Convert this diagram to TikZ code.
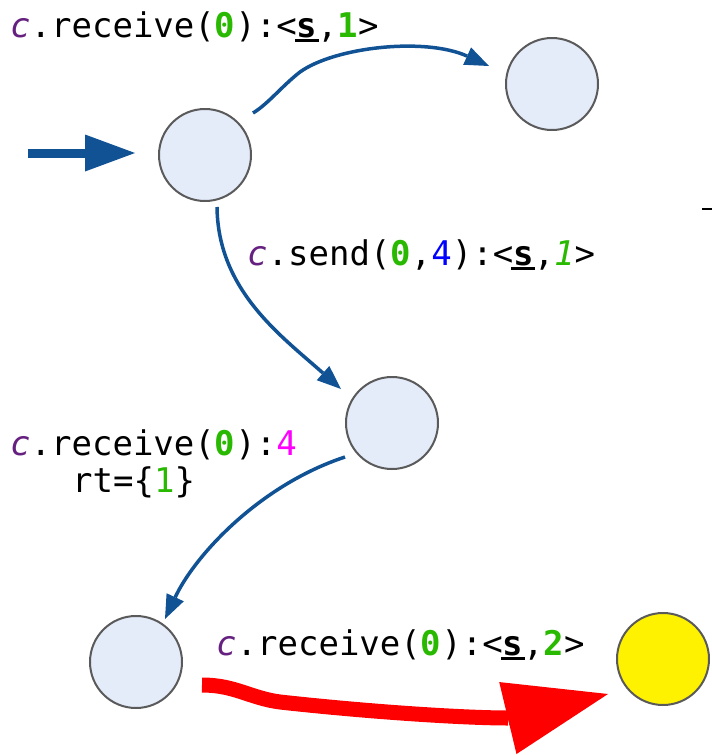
\documentclass[tikz,border=0pt]{standalone}
\usepackage{fontspec}
\setmonofont{DejaVu Sans Mono}
\usetikzlibrary{arrows.meta,calc}

\definecolor{flowblue}{RGB}{16,82,148}
\definecolor{statefill}{RGB}{228,235,249}
\definecolor{stateline}{RGB}{90,90,90}
\definecolor{cpurple}{RGB}{102,32,128}
\definecolor{cgreen}{RGB}{40,185,0}
\definecolor{sendblue}{RGB}{0,0,255}
\definecolor{rtmagenta}{RGB}{255,0,255}
\definecolor{hotred}{RGB}{255,0,0}

% channel variable, bold green literal, underlined bold state
\newcommand{\chv}{\textcolor{cpurple}{\textit{c}}}
\newcommand{\gb}[1]{\textcolor{cgreen}{\textbf{#1}}}
\newcommand{\ust}{\rlap{\kern-2pt\rule[-5pt]{24pt}{3pt}}\textbf{s}}

\begin{document}
\begin{tikzpicture}[x=1pt,y=-1pt,
  state/.style={circle,draw=stateline,line width=2pt,fill=statefill,
                minimum size=92pt,inner sep=0pt},
  lbl/.style={anchor=base west,inner sep=0pt,
              font=\ttfamily\fontsize{34}{37}\selectfont},
  flow/.style={draw=flowblue,line width=3.5pt,
               -{Triangle[length=24pt,width=19pt,line width=0pt]}},
  entry/.style={draw=flowblue,line width=9pt,
               -{Triangle[length=50pt,width=37pt,line width=0pt]}},
  hot/.style={draw=hotred,line width=15pt,
               -{Triangle[length=103pt,width=74pt,line width=0pt]}}]
\useasboundingbox (0,0) rectangle (712,755);

% states
\node[state] (A) at (205,155) {};
\node[state] (B) at (552,84) {};
\node[state] (C) at (392,423) {};
\node[state] (D) at (136,662) {};
\node[state,fill=yellow] (E) at (663,659) {};

% connector ends
\coordinate (in0) at (28,153);
\coordinate (in1) at (135,153);
\coordinate (ab0) at (253,113);
\coordinate (ab1) at (489,66);
\coordinate (ac0) at (217,207);
\coordinate (ac1) at (341,389);
\coordinate (cd0) at (345,457);
\coordinate (cd1) at (165,619);
\coordinate (de0) at (202,685);
\coordinate (de1) at (608,694);

% transitions
\draw[entry] (in0) -- (in1);
\draw[flow] (ab0) .. controls (268,104) and (282,86) .. (300,72)
                  .. controls (335,47) and (425,37) .. (ab1);
\draw[flow] (ac0) .. controls (218,290) and (280,335) .. (ac1);
\draw[flow] (cd0) .. controls (260,485) and (195,555) .. (cd1);
\draw[hot] (de0) .. controls (235,685) and (250,698) .. (280,702)
                 .. controls (380,713) and (470,718) .. (508,718) -- (de1);

% labels
\node[lbl] (l1) at (10,37) {\chv.receive(\gb{0}):<\ust,\gb{1}>};
\node[lbl] (l2) at (247,265) {\chv.send(\gb{0},\textcolor{sendblue}{4}):<\ust,\textcolor{cgreen}{\textit{1}}>};
\node[lbl] (l3) at (10,455) {\chv.receive(\gb{0}):\textcolor{rtmagenta}{4}};
\node[lbl] (l4) at (72,492) {rt=\{\textcolor{cgreen}{1}\}};
\node[lbl] (l5) at (216,655) {\chv.receive(\gb{0}):<\ust,\gb{2}>};

% stray tick at the right edge
\draw[line width=1.5pt] (702,209) -- (712,209);
\end{tikzpicture}
\end{document}
